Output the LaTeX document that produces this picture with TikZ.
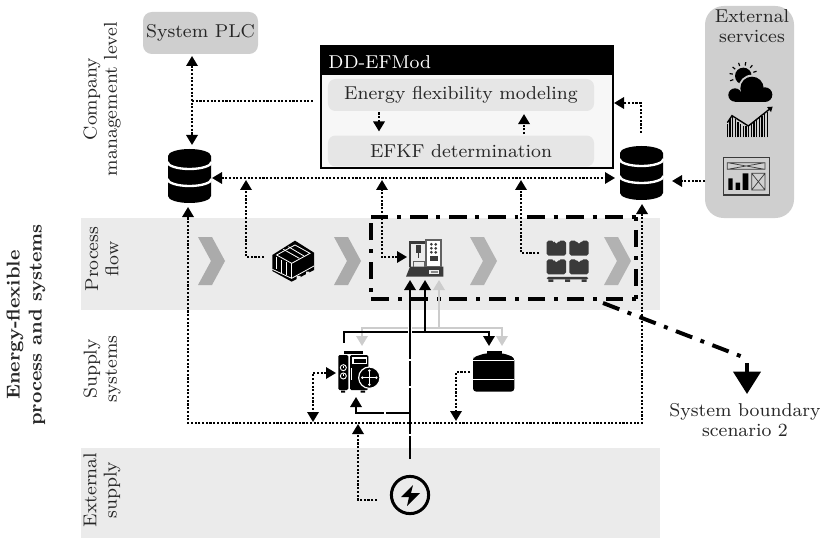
\documentclass[tikz,border=0pt]{standalone}
\usetikzlibrary{arrows.meta,calc}
\definecolor{band}{HTML}{EBEBEB}
\definecolor{panel}{HTML}{CFCFCF}
\definecolor{inner}{HTML}{E6E6E6}
\definecolor{dark}{HTML}{3A3A3A}
\definecolor{lgray}{HTML}{CCCCCC}
\tikzset{
  every node/.style={font=\fontsize{8}{8.7}\selectfont,text=black!85,inner sep=0pt},
  dotline/.style={line width=0.9pt,dash pattern=on 0.9pt off 0.7pt},
  tip/.style={-{Triangle[length=4.3pt,width=4.9pt]}},
  bitip/.style={{Triangle[length=4.3pt,width=4.9pt]}-{Triangle[length=4.3pt,width=4.9pt]}},
  solidline/.style={line width=0.9pt},
  boundary/.style={line width=1.45pt,dash pattern=on 7.5pt off 3.8pt on 1.7pt off 3.8pt},
  rotlabel/.style={rotate=90,align=center},
  zoomscope/.style={shift={#1},x=0.14333pt,y=-0.14333pt},
  bandbox/.style={fill=band,draw=none}
}
\newcommand{\chevronat}[2]{\fill[#2] (#1,237) -- ++(14,0) -- ++(13,24) -- ++(-13,24) -- ++(-14,0) -- ++(13,-24) -- cycle;}
\newcommand{\dbat}[2]{%
  \begin{scope}[shift={(#1,#2)}]
    \fill[black] (-21.5,7) arc[start angle=180,end angle=360,x radius=21.5,y radius=7]
      -- (21.5,47) arc[start angle=0,end angle=180,x radius=21.5,y radius=7] -- cycle;
    \draw[white,line width=1pt] (-22,13) arc[start angle=180,end angle=0,x radius=22,y radius=7];
    \draw[white,line width=1pt] (-22,30) arc[start angle=180,end angle=0,x radius=22,y radius=7];
  \end{scope}}
\begin{document}
\begin{tikzpicture}[x=0.43pt,y=-0.43pt]
\useasboundingbox (0,0) rectangle (822,538);
% bands
\fill[bandbox] (81,218) rectangle (660,310);
\fill[bandbox] (81,448) rectangle (660,538);
% side labels
\node[rotlabel,font=\fontsize{8}{9.5}\selectfont\bfseries] (lblmain) at (26,325) {Energy-flexible\\process and systems};
\node[rotlabel] (lblcomp) at (102,99) {Company\\management level};
\node[rotlabel] (lblproc) at (102,259) {Process\\flow};
\node[rotlabel] (lblsup) at (102,369) {Supply\\systems};
\node[rotlabel] (lblext) at (102,490) {External\\supply};
% panels
\node[fill=panel,rounded corners=3.8pt,minimum width=49.45pt,minimum height=18.06pt] (plc) at (200.5,33) {System PLC};
\fill[panel,rounded corners=8pt] (705,6) rectangle (794,218);
\node[align=center] (extsrv) at (752,26) {External\\services};
% DD-EFMod
\node[draw=black,line width=0.9pt,fill=white!97!black,minimum width=125.56pt,minimum height=52.46pt] (ddbox) at (467,107) {};
\fill[black] (321,46) rectangle (613,75);
\node[anchor=west,text=white] (ddtitle) at (328,62) {DD-EFMod};
\node[fill=inner,rounded corners=3.2pt,minimum width=114.4pt,minimum height=13.76pt] (efm) at (461,95) {Energy flexibility modeling};
\node[fill=inner,rounded corners=3.2pt,minimum width=114.4pt,minimum height=13.3pt] (efkf) at (461,151) {EFKF determination};
% databases
\dbat{189.5}{149}
\dbat{641.5}{146}
\coordinate (dbl) at (189.5,175);
\coordinate (dbr) at (641.5,173);
% chevrons
\chevronat{198}{black!33}
\chevronat{334}{black!33}
\chevronat{470}{black!30}
\chevronat{604}{black!30}
% connector ports
\coordinate (plcport) at (192,56);
\coordinate (dblup) at (192,145);
\coordinate (plcbranch) at (192,101);
\coordinate (ddleft) at (313,101);
\coordinate (dbla) at (212,178);
\coordinate (dbra) at (615,178);
\coordinate (palletL) at (264,257);
\coordinate (toBusA) at (246,180);
\coordinate (machL) at (407,257);
\coordinate (toBusB) at (382,180);
\coordinate (boxL) at (539,253);
\coordinate (toBusC) at (521,180);
\coordinate (dbrtop) at (641,133);
\coordinate (ddright) at (614,103);
\coordinate (extport) at (705,181);
\coordinate (dbrE) at (672,181);
\coordinate (dbrS) at (642,204);
\coordinate (dblS) at (188,207);
\coordinate (loopR) at (642,423);
\coordinate (loopL) at (188,423);
% dotted connectors
\draw[dotline,bitip] (plcport) -- (dblup);
\draw[dotline] (plcbranch) -- (ddleft);
\draw[dotline,bitip] (dbla) -- (dbra);
\draw[dotline,tip] (palletL) -| (toBusA);
\draw[dotline,bitip] (machL) -| (toBusB);
\draw[dotline,tip] (boxL) -| (toBusC);
\draw[dotline,tip] ($(efm.south)+(-82,1)$) -- ++(0,19);
\draw[dotline,tip] ($(efkf.north)+(63,-1)$) -- ++(0,-20);
\draw[dotline,tip] (dbrtop) |- (ddright);
\draw[dotline,tip] (extport) -- (dbrE);
\draw[dotline,bitip] (dbrS) -- (loopR) -- (loopL) -- (dblS);
% supply dotted
\coordinate (compL) at (336,373);
\coordinate (busA) at (313,422);
\coordinate (tankL) at (470,372);
\coordinate (busB) at (456,421);
\coordinate (extL) at (377,500);
\coordinate (busC) at (358,424);
\draw[dotline,bitip] (compL) -| (busA);
\draw[dotline,tip] (tankL) -| (busB);
\draw[dotline,tip] (extL) -| (busC);
% boundary
\coordinate (bTL) at (371,217);
\coordinate (bTR) at (636,217);
\coordinate (bBR) at (636,299);
\coordinate (bBL) at (371,299);
\draw[boundary] (bTL) -- (bTR);
\draw[boundary,dash phase=11.3pt] (bTR) -- (bBR);
\draw[boundary,dash phase=11.3pt] (bBR) -- (bBL);
\draw[boundary,dash phase=8.3pt] (bBL) -- (bTL);
\coordinate (bstart) at (603,303);
\coordinate (bend) at (743,357);
\draw[boundary,line width=1.7pt] (bstart) -- (bend);
\coordinate (bshaft) at (747,363);
\coordinate (btip) at (747,394);
\draw[line width=1.7pt,-{Triangle[length=9.6pt,width=11.6pt]}] (bshaft) -- (btip);
\node[align=center] (bnd) at (745,420) {System boundary\\scenario 2};
% power icon
\node[circle,draw=black,line width=1.3pt,minimum size=16pt] (power) at (410,495) {};
\fill[black] (413,485) -- (401,497) -- (409,497) -- (407,506) -- (420,493) -- (411,493) -- cycle;
% solid connectors
\coordinate (mA) at (425,280);
\coordinate (mB) at (410,280);
\coordinate (mC) at (439,280);
\coordinate (j1) at (425,332);
\coordinate (j2) at (439,328);
\coordinate (compT) at (344,343);
\coordinate (tankT) at (489,346);
\coordinate (compG) at (362,346);
\coordinate (tankG) at (502,346);
\coordinate (powT) at (410,459);
\coordinate (bj) at (410,413);
\coordinate (compB) at (356,397);
\draw[solidline,lgray,tip] (j2) -- (mC);
\draw[solidline,lgray,tip] (j2) -| (compG);
\draw[solidline,lgray,tip] (j2) -| (tankG);
\draw[solidline,tip] (j1) -- (mA);
\draw[solidline] (j1) -| (compT);
\draw[solidline,tip] (j1) -| (tankT);
\draw[white,line width=1.8pt] (410,325) -- (410,336);
\draw[solidline,tip] (powT) -- (mB);
\draw[solidline,tip] (bj) -| (compB);
\draw[white,line width=0.6pt] (385,411) -- (385,415);
\foreach \gy in {360,387,435} \draw[white,line width=0.5pt] (407,\gy) -- (413,\gy);
% pallet icon
\begin{scope}[zoomscope={(180,210)}]
  \fill[black] (345,92) -- (402,128) -- (402,180) -- (335,215) -- (277,183) -- (277,135) -- cycle;
  \draw[white,line width=0.35pt] (290,135) -- (345,105) -- (390,130) -- (335,160) -- cycle;
  \draw[white,line width=0.35pt] (310,118) -- (358,145) (325,110) -- (372,138);
  \draw[white,line width=0.35pt] (335,160) -- (335,205) (305,150) -- (305,188) (320,155) -- (320,195) (290,142) -- (290,178);
  \draw[white,line width=0.35pt] (277,178) -- (335,205) -- (402,168);
  \fill[band] (350,198) rectangle (362,210) (378,185) rectangle (388,195);
\end{scope}
% machine icon
\begin{scope}[zoomscope={(390,225)}]
  \fill[dark] (48,155) -- (60,125) -- (160,125) -- (160,155) -- cycle;
  \fill[band!80!white,draw=dark,line width=0.4pt] (116,132) rectangle (148,148);
  \fill[dark!60] (122,137) rectangle (143,143);
  \draw[dark,line width=0.7pt] (60,125) -- (60,50) -- (108,50);
  \fill[dark] (60,48) rectangle (108,58);
  \fill[dark] (78,60) rectangle (92,84);
  \draw[dark,line width=0.4pt] (85,84) -- (85,98);
  \draw[dark!80,line width=0.4pt] (70,125) -- (70,110) -- (102,110) -- (102,125);
  \fill[white,draw=dark!80,line width=0.5pt] (108,45) rectangle (153,125);
  \foreach \px in {124,137} \foreach \py in {58,70,82} \fill[dark] (\px,\py) circle[radius=4.5];
  \fill[dark] (121,93) rectangle (144,108);
\end{scope}
% boxes on pallet icon
\begin{scope}[zoomscope={(480,210)}]
  \foreach \bx/\by in {200/92,268/92,200/148,268/148}{
    \fill[dark,rounded corners=0.8pt] (\bx,\by) -- ++(22,0) -- ++(0,8) -- ++(14,0) -- ++(0,-8) -- ++(22,0) -- ++(0,45) -- ++(-58,0) -- cycle;
  }
  \fill[dark,rounded corners=0.6pt] (200,201) rectangle (325,208);
  \fill[dark] (205,208) rectangle (220,216) (255,208) rectangle (270,216) (305,208) rectangle (320,216);
\end{scope}
% compressor icon
\begin{scope}[zoomscope={(290,300)}]
  \fill[black] (163,153) rectangle (218,161);
  \fill[black,rounded corners=0.6pt] (145,165) rectangle (175,270);
  \fill[black,rounded corners=0.6pt] (180,165) rectangle (235,270);
  \fill[white] (187,172) rectangle (232,192);
  \fill[black] (191,176) rectangle (228,188);
  \fill[black] (153,272) rectangle (165,278) (212,272) rectangle (225,278);
  \foreach \cy in {203,228}{
    \draw[white,line width=0.4pt] (160,\cy) circle[radius=9];
    \draw[white,line width=0.4pt] (160,\cy-6) -- (160,\cy);
  }
  \fill[white] (182,205) rectangle (187,240);
  \fill[black,draw=white,line width=0.5pt] (238,233) circle[radius=32];
  \draw[white,line width=0.55pt] (238,212) -- (238,254) (217,233) -- (259,233);
  \fill[white] (238,212) circle[radius=4] (238,254) circle[radius=4] (217,233) circle[radius=4] (259,233) circle[radius=4];
\end{scope}
% tank icon
\begin{scope}[zoomscope={(290,300)}]
  \fill[black] (590,152) rectangle (635,165);
  \fill[black,rounded corners=1.4pt] (549,180) -- (549,172) -- (585,160) -- (640,160) -- (673,172) -- (673,275) -- (549,275) -- cycle;
  \draw[white,line width=0.4pt] (549,180) -- (673,180) (549,238) -- (673,238);
\end{scope}
% external service icons
\begin{scope}[zoomscope={(430,0)}]
  \fill[black] (940,228) circle[radius=25];
  \foreach \ra in {160,190,220,250,280,310,340}{
    \draw[black,line width=0.5pt] ($(940,228)+(\ra:32)$) -- ($(940,228)+(\ra:42)$);
  }
  \foreach \cx/\cy/\cr in {915/285/20,966/265/35,1005/284/22}{
    \fill[panel] (\cx,\cy) circle[radius=\cr+6];
  }
  \foreach \cx/\cy/\cr in {915/285/20,966/265/35,1005/284/22}{
    \fill[black] (\cx,\cy) circle[radius=\cr];
  }
  \fill[black] (915,280) rectangle (1005,305);
  \foreach \bx/\bt in {892/372,900/358,908/350,916/358,924/365,932/372,940/378,948/378,956/374,964/370,972/366,980/360,988/354,996/348,1004/342,1012/336}{
    \draw[black,line width=0.6pt] (\bx,412) -- (\bx,\bt);
  }
  \draw[black,line width=0.6pt,-{Triangle[length=2pt,width=2.6pt]}] (892,368) -- (906,347) -- (955,378) -- (1028,320);
  \draw[dark,line width=0.5pt] (880,473) rectangle (1018,585);
  \draw[dark,line width=0.3pt] (892,488) rectangle (1005,508) (892,488) -- (1005,508) (892,508) -- (1005,488);
  \fill[black] (895,535) rectangle (908,570) (917,548) rectangle (930,570) (938,520) rectangle (955,570);
  \draw[dark,line width=0.3pt] (965,520) rectangle (1005,570) (965,520) -- (1005,570) (965,570) -- (1005,520);
\end{scope}
\end{tikzpicture}
\end{document}
